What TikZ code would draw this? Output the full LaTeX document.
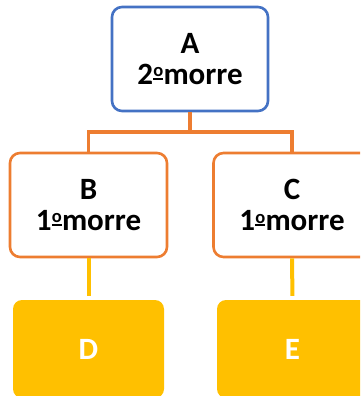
\documentclass[tikz,border=0pt]{standalone}
\usepackage{fontspec}
\setmainfont{Carlito}
\definecolor{cblue}{HTML}{4472C4}
\definecolor{corange}{HTML}{ED7D31}
\definecolor{cyellow}{HTML}{FFC000}
\newcommand\myordm{\kern0.3pt\setbox0\hbox{\fontsize{18.5}{18.5}\selectfont\bfseries o}\rlap{\raisebox{7.5pt}{\copy0}}\raisebox{4.2pt}{\rule{\wd0}{2.2pt}}\kern0.3pt}
\begin{document}
\begin{tikzpicture}[x=1pt,y=-1pt,
  box/.style={rounded corners=10pt, line width=2.6pt, fill=white, align=center,
    font=\fontsize{31}{31}\selectfont\bfseries, inner sep=0pt},
  leaf/.style={rounded corners=9pt, fill=cyellow, draw=none, text=white,
    font=\fontsize{31}{31}\selectfont\bfseries, inner sep=0pt,
    minimum width=151pt, minimum height=98pt},
  oline/.style={draw=corange, line width=3.4pt},
  yline/.style={draw=cyellow, line width=4pt}]
\useasboundingbox (0,0) rectangle (360,396);
\clip (0,0) rectangle (360,396);
\node[box, draw=cblue, minimum width=156pt, minimum height=104pt] (A) at (190,59) {A\\2\myordm morre};
\node[box, draw=corange, minimum width=157pt, minimum height=104pt] (B) at (88.5,205) {B\\1\myordm morre};
\node[box, draw=corange, minimum width=157pt, minimum height=104pt] (C) at (292,205) {C\\1\myordm morre};
\node[leaf] (D) at (88.5,349) {D};
\node[leaf] (E) at (292.5,349) {E};
\coordinate (j) at (190,132);
\draw[oline] (A.south) -- (j);
\draw[oline] (j) -| (B.north);
\draw[oline] (j) -| (C.north);
\draw[yline, shorten >=4pt] (B.south) -- (D.north);
\draw[yline, shorten >=4pt] (C.south) -- (E.north);
\end{tikzpicture}
\end{document}
